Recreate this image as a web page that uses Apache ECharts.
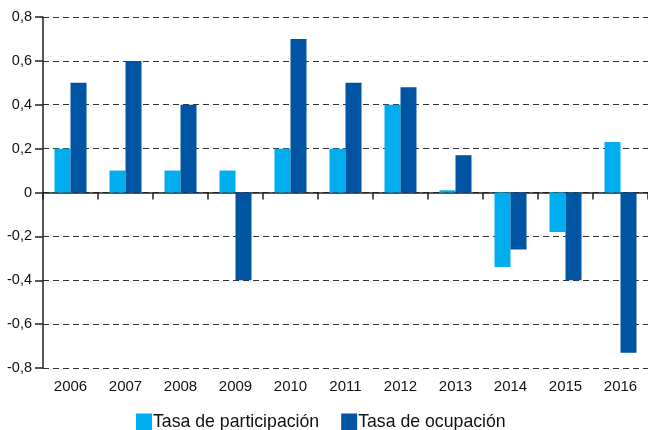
<!DOCTYPE html>
<html>
<head>
<meta charset="utf-8">
<script src="https://cdn.jsdelivr.net/npm/echarts@6/dist/echarts.min.js"></script>
<style>
html,body{margin:0;padding:0;background:#fff;}
#chart{width:648px;height:430px;}
</style>
</head>
<body>
<div id="chart"></div>
<script>
var years = ['2006','2007','2008','2009','2010','2011','2012','2013','2014','2015','2016'];
var participacion = [0.2, 0.1, 0.1, 0.1, 0.2, 0.2, 0.4, 0.01, -0.34, -0.18, 0.23];
var ocupacion = [0.5, 0.6, 0.4, -0.4, 0.7, 0.5, 0.48, 0.17, -0.26, -0.4, -0.73];
var seriesNames = ['Tasa de participación', 'Tasa de ocupación'];

var chart = echarts.init(document.getElementById('chart'));
var font = 'Liberation Sans, Arial, sans-serif';
chart.setOption({
  animation: false,
  grid: {left: 43, right: -5, top: 17, bottom: 62},
  legend: {
    bottom: -1, left: 136, padding: 0,
    itemWidth: 16, itemHeight: 17, itemGap: 22,
    icon: 'rect',
    textStyle: {fontFamily: font, fontSize: 17.7, color: '#111', padding: [0,0,0,-4]},
    data: seriesNames
  },
  xAxis: [{
    type: 'category', data: years, position: 'bottom',
    axisLine: {show: false, onZero: false},
    axisTick: {show: false},
    axisLabel: {fontFamily: font, fontSize: 15, color: '#111', margin: 11}
  }, {
    type: 'category', data: years, position: 'bottom',
    axisLine: {show: true, onZero: true, lineStyle: {color: '#222', width: 1.5}},
    axisTick: {show: true, length: 7, lineStyle: {color: '#222', width: 1.5}},
    axisLabel: {show: false}
  }],
  yAxis: {
    type: 'value', min: -0.8, max: 0.8, interval: 0.2,
    axisLine: {show: true, lineStyle: {color: '#222', width: 1.5}},
    axisTick: {show: true, length: 8, lineStyle: {color: '#222', width: 1.5}},
    axisLabel: {fontFamily: font, fontSize: 14.5, color: '#111', margin: 11,
      formatter: function (v) { return Math.abs(v) < 1e-9 ? '0' : (Math.round(v*10)/10).toFixed(1).replace('.', ','); }},
    splitLine: {show: true, lineStyle: {color: '#333', type: [6, 4], width: 1}}
  },
  series: [{
    name: seriesNames[0], type: 'bar', data: participacion,
    barWidth: 16, barGap: '0%',
    itemStyle: {color: '#00AEEF'}
  }, {
    name: seriesNames[1], type: 'bar', data: ocupacion,
    barWidth: 16, barGap: '0%',
    itemStyle: {color: '#0055A2'}
  }]
});
</script>
</body>
</html>
